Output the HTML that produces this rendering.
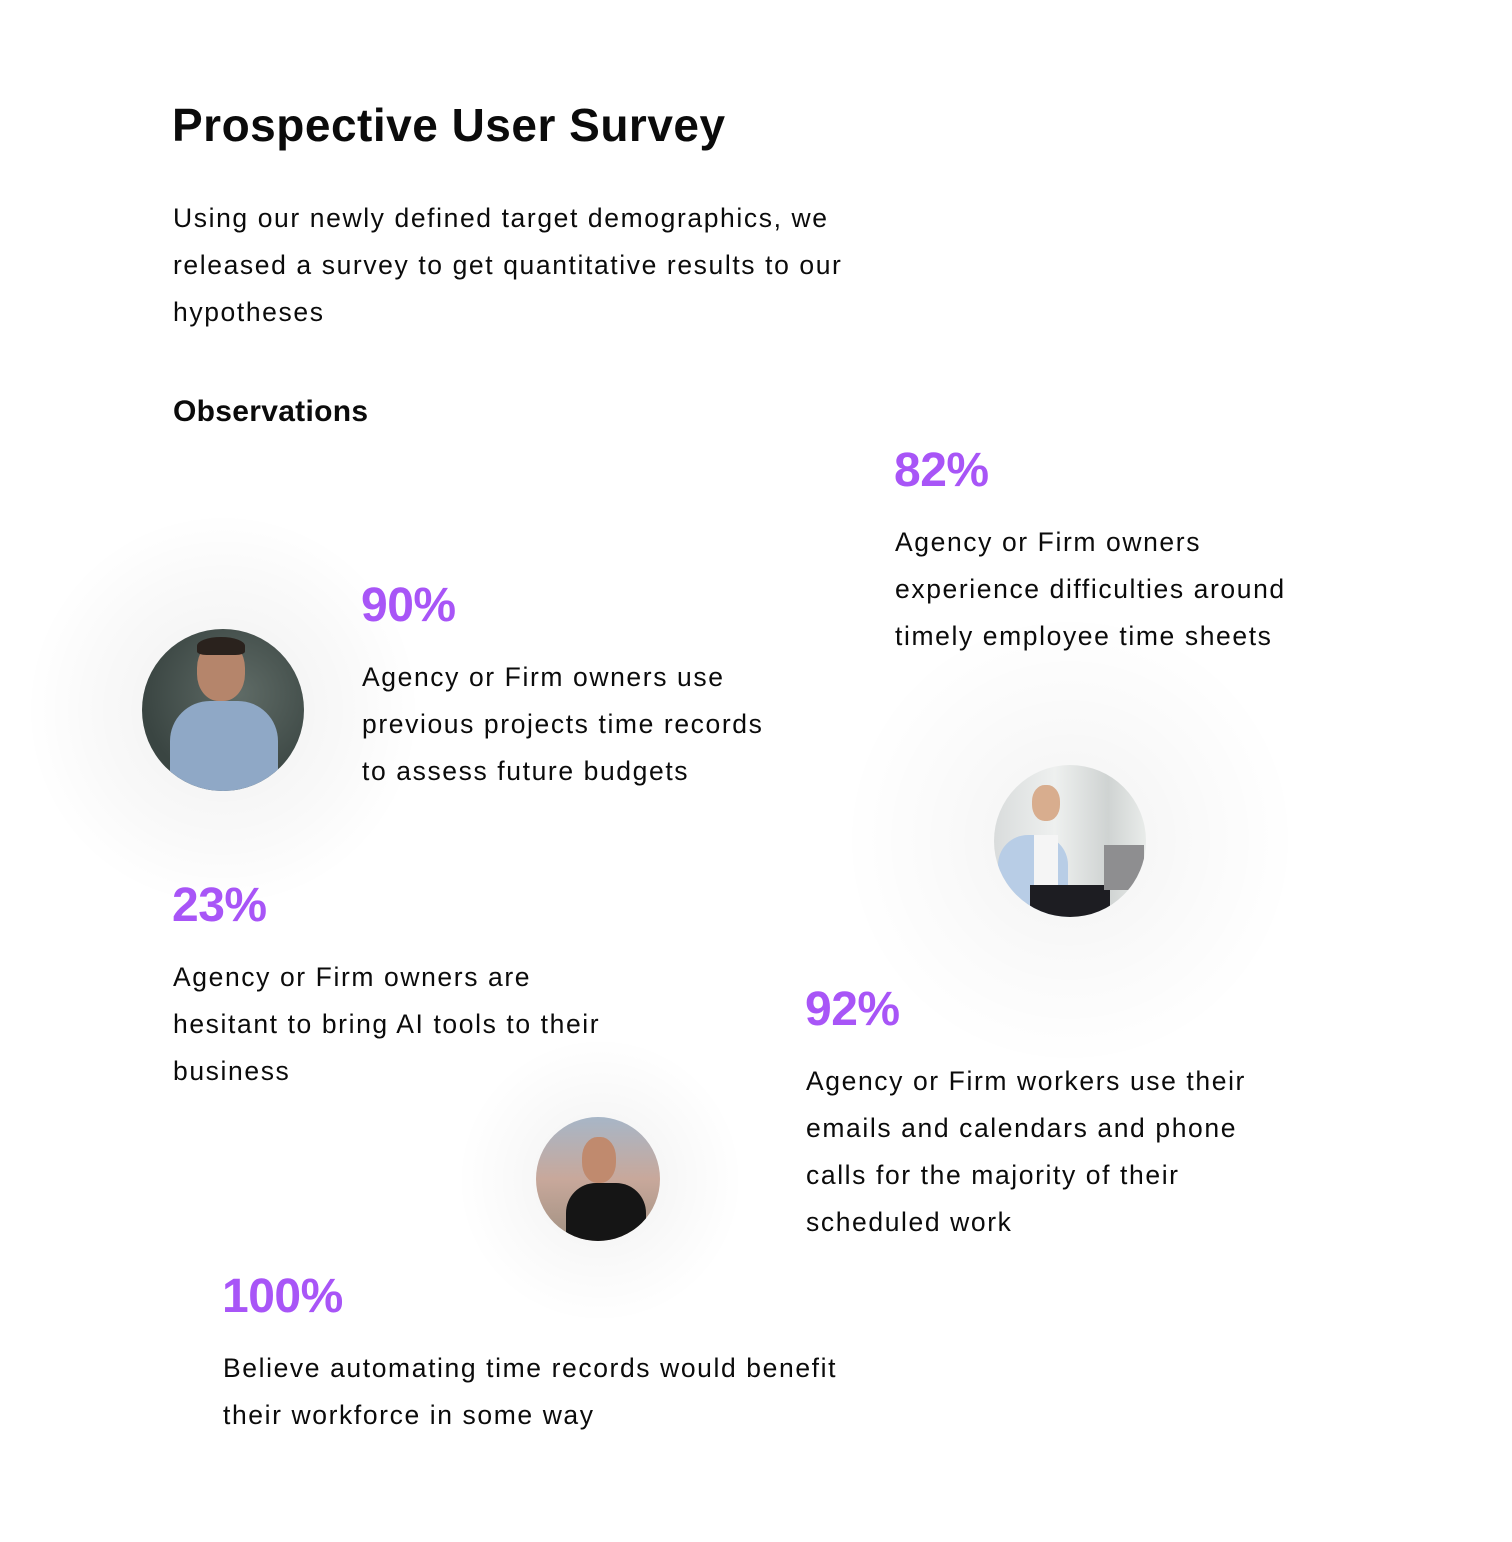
<!DOCTYPE html>
<html><head><meta charset="utf-8"><style>
body{margin:0;background:#fff;}
#w{position:relative;width:1512px;height:1542px;overflow:hidden;font-family:"Liberation Sans",sans-serif;color:#0b0b0b;}
.a{position:absolute;white-space:nowrap;}
.t{font-size:26.5px;line-height:47px;letter-spacing:1.6px;}
.p{font-size:48px;line-height:60px;color:#a855f7;font-weight:bold;letter-spacing:-0.5px;}
.c{position:absolute;border-radius:50%;overflow:hidden;}
.s{position:absolute;border-radius:50%;}
</style></head><body><div id="w">
<div class="s" style="left:23px;top:510px;width:400px;height:400px;background:radial-gradient(circle,rgba(0,0,0,0.06) 0%,rgba(0,0,0,0.025) 45%,rgba(0,0,0,0) 70%);"></div>
<div class="s" style="left:830px;top:620px;width:480px;height:440px;background:radial-gradient(circle,rgba(0,0,0,0.05) 0%,rgba(0,0,0,0.02) 40%,rgba(0,0,0,0) 70%);"></div>
<div class="s" style="left:450px;top:1040px;width:300px;height:280px;background:radial-gradient(circle,rgba(0,0,0,0.06) 0%,rgba(0,0,0,0.02) 45%,rgba(0,0,0,0) 70%);"></div>

<div class="a" style="left:172px;top:95px;font-size:46px;line-height:60px;font-weight:bold;letter-spacing:0.5px;">Prospective User Survey</div>
<div class="a t" style="left:173px;top:195px;">Using our newly defined target demographics, we<br>released a survey to get quantitative results to our<br>hypotheses</div>
<div class="a" style="left:173px;top:392px;font-size:30px;line-height:40px;font-weight:bold;letter-spacing:0.3px;">Observations</div>

<div class="a p" style="left:894px;top:441px;">82%</div>
<div class="a t" style="left:895px;top:519px;">Agency or Firm owners<br>experience difficulties around<br>timely employee time sheets</div>

<div class="a p" style="left:361px;top:576px;">90%</div>
<div class="a t" style="left:362px;top:654px;">Agency or Firm owners use<br>previous projects time records<br>to assess future budgets</div>

<div class="a p" style="left:172px;top:876px;">23%</div>
<div class="a t" style="left:173px;top:954px;">Agency or Firm owners are<br>hesitant to bring AI tools to their<br>business</div>

<div class="a p" style="left:805px;top:980px;">92%</div>
<div class="a t" style="left:806px;top:1058px;">Agency or Firm workers use their<br>emails and calendars and phone<br>calls for the majority of their<br>scheduled work</div>

<div class="a p" style="left:222px;top:1267px;">100%</div>
<div class="a t" style="left:223px;top:1345px;">Believe automating time records would benefit<br>their workforce in some way</div>

<div class="c" style="left:142px;top:629px;width:162px;height:162px;background:radial-gradient(circle at 60% 40%,#5f6b66,#3a4542 70%);">
 <div style="position:absolute;left:55px;top:12px;width:48px;height:60px;border-radius:45%;background:#b5856b;"></div>
 <div style="position:absolute;left:55px;top:8px;width:48px;height:18px;border-radius:50% 50% 20% 20%;background:#2a221d;"></div>
 <div style="position:absolute;left:28px;top:72px;width:108px;height:100px;border-radius:40px 40px 0 0;background:#8fa8c6;"></div>
</div>
<div class="c" style="left:994px;top:765px;width:152px;height:152px;background:linear-gradient(90deg,#d9dcdc,#eef0ef 40%,#cfd3d2 75%,#e9ecea);">
 <div style="position:absolute;left:4px;top:70px;width:70px;height:90px;border-radius:30px 30px 0 0;background:#b8cde6;"></div>
 <div style="position:absolute;left:40px;top:70px;width:24px;height:60px;background:#f5f5f5;"></div>
 <div style="position:absolute;left:38px;top:20px;width:28px;height:36px;border-radius:45%;background:#d8ad8e;"></div>
 <div style="position:absolute;left:36px;top:120px;width:80px;height:40px;background:#1d1d22;"></div>
 <div style="position:absolute;left:110px;top:80px;width:40px;height:45px;background:#8e8e90;"></div>
</div>
<div class="c" style="left:536px;top:1117px;width:124px;height:124px;background:linear-gradient(180deg,#a7b6c7,#c8a89b 50%,#a19182);">
 <div style="position:absolute;left:46px;top:20px;width:34px;height:46px;border-radius:45%;background:#c08a6e;"></div>
 <div style="position:absolute;left:30px;top:66px;width:80px;height:70px;border-radius:30px 30px 0 0;background:#151515;"></div>
</div>
</div></body></html>
